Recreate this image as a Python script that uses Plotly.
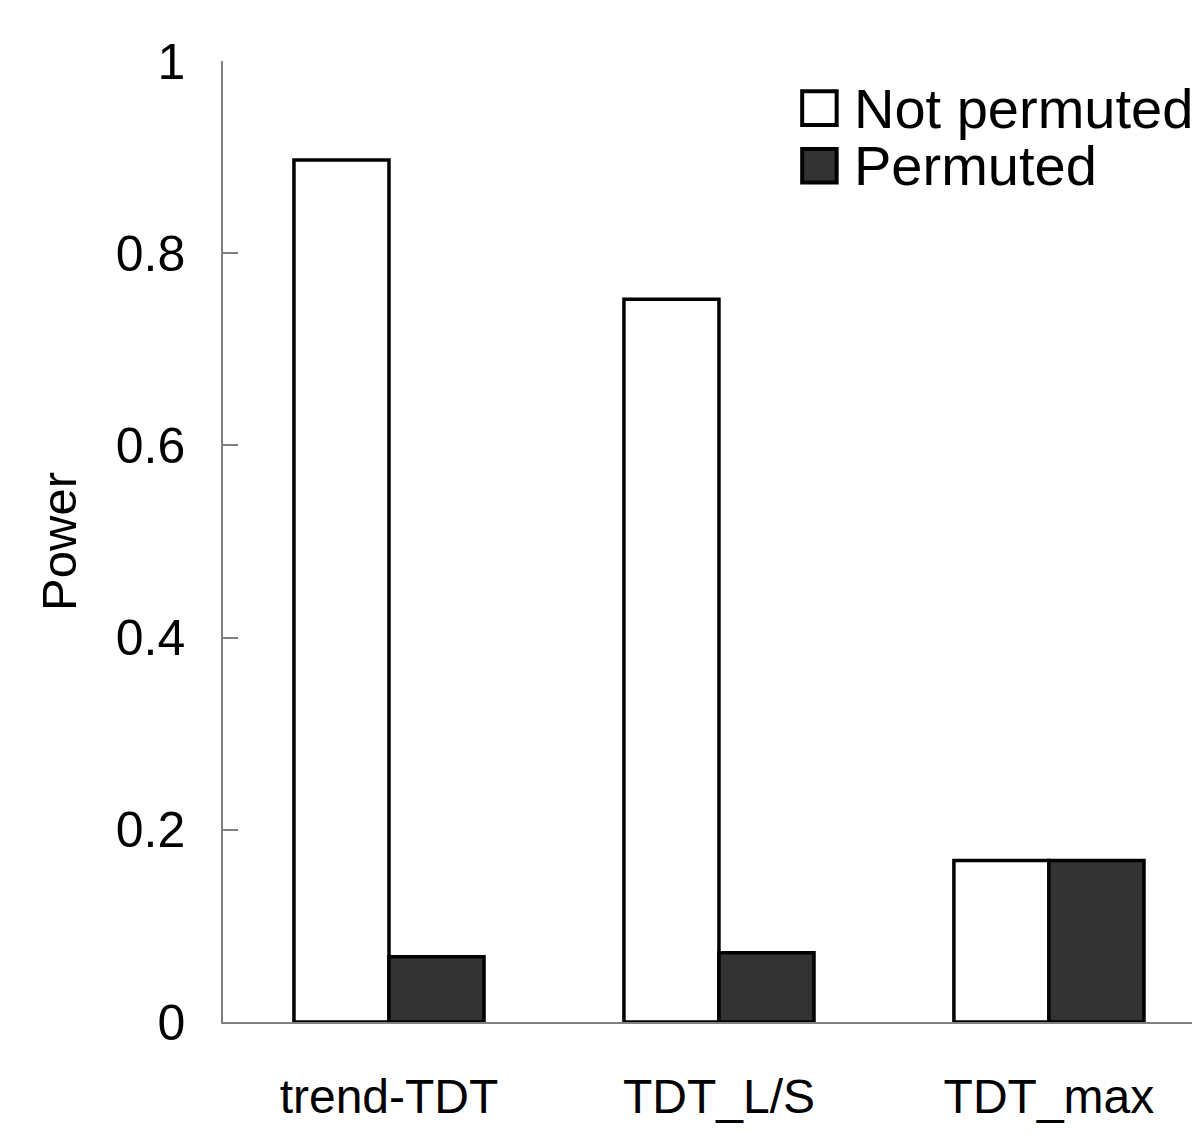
import plotly.graph_objects as go

# DATA
categories = ["trend-TDT", "TDT_L/S", "TDT_max"]
not_permuted = [0.897, 0.752, 0.168]
permuted = [0.068, 0.072, 0.168]
y_ticks = [0, 0.2, 0.4, 0.6, 0.8, 1]
y_tick_labels = ["0", "0.2", "0.4", "0.6", "0.8", "1"]
legend_names = ["Not permuted", "Permuted"]

font = "Liberation Sans, Arial, sans-serif"
dark_fill = "#333333"

fig = go.Figure()
fig.add_trace(go.Bar(
    x=categories, y=not_permuted, name=legend_names[0],
    marker=dict(color="white", line=dict(color="black", width=3.5)),
    showlegend=False
))
fig.add_trace(go.Bar(
    x=categories, y=permuted, name=legend_names[1],
    marker=dict(color=dark_fill, line=dict(color="black", width=3.5)),
    showlegend=False
))

# legend drawn by hand so the swatches can be large
legend_rows = [(0.951, "white"), (0.891, dark_fill)]
for (ypos, colour), label in zip(legend_rows, legend_names):
    fig.add_shape(type="rect", xref="paper", yref="paper",
                  x0=0.588, x1=0.623, y0=ypos - 0.0175, y1=ypos + 0.0175,
                  fillcolor=colour, line=dict(color="black", width=4))
    fig.add_annotation(x=0.639, y=ypos, xref="paper", yref="paper",
                       text=label, showarrow=False, xanchor="left", yanchor="middle",
                       font=dict(size=56, family=font, color="black"))

fig.update_layout(
    width=1200, height=1144,
    margin=dict(l=215, r=0, t=53, b=130),
    paper_bgcolor="white", plot_bgcolor="white",
    barmode="group", bargap=0.424, bargroupgap=0,
    font=dict(family=font, color="black"),
)
fig.update_xaxes(
    range=[-0.503, 2.482], showline=True, linecolor="#808080", linewidth=1.5,
    ticks="", showgrid=False, zeroline=False,
    tickfont=dict(size=48, family=font, color="black"), ticklabelstandoff=32
)
fig.update_yaxes(
    range=[0, 1], tickvals=y_ticks, ticktext=y_tick_labels,
    showline=True, linecolor="#808080", linewidth=1.5,
    ticks="inside", ticklen=15, tickcolor="#808080", tickwidth=1.5,
    showgrid=False, zeroline=False,
    tickfont=dict(size=50, family=font, color="black"), ticklabelstandoff=26,
    title=dict(text="Power", font=dict(size=49, family=font, color="black"), standoff=24)
)

fig.write_html("out.html")
